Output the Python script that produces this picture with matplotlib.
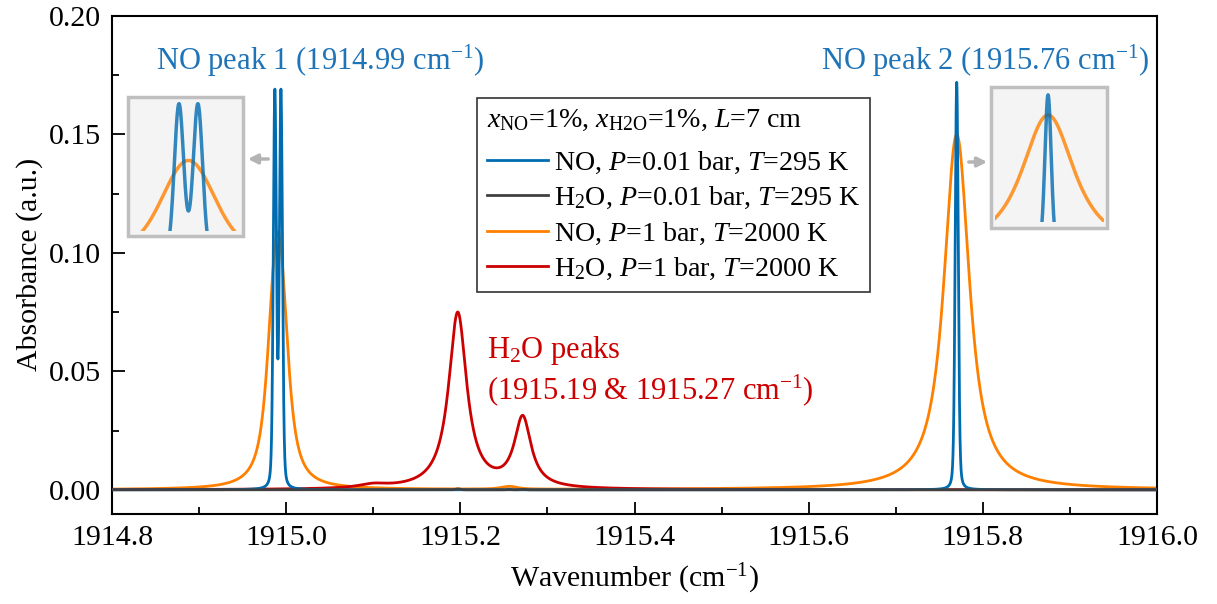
import numpy as np
import matplotlib.pyplot as plt
from matplotlib.ticker import MultipleLocator, FormatStrFormatter
from matplotlib.patches import Rectangle, FancyArrowPatch

# line positions (cm-1)
no_centers = [1914.987, 1914.994, 1915.256, 1915.770]
h2o_centers = [1915.100, 1915.197, 1915.2716]

# NO, P=0.01 bar, T=295 K
no_cold_heights = [0.166, 0.166, 0.0003, 0.172]
no_cold_lorentz = [0.0005, 0.0005, 0.0005, 0.0005]
no_cold_doppler = 0.0018

# H2O, P=0.01 bar, T=295 K
h2o_cold_heights = [0.0, 0.0004, 0.0002]
h2o_cold_lorentz = [0.0006, 0.0006, 0.0006]
h2o_cold_doppler = 0.0028

# NO, P=1 bar, T=2000 K
no_hot_heights = [0.059, 0.059, 0.0012, 0.150]
no_hot_lorentz = [0.0080, 0.0080, 0.0080, 0.0155]
no_hot_doppler = 0.0056

# H2O, P=1 bar, T=2000 K
h2o_hot_heights = [0.0015, 0.0743, 0.0294]
h2o_hot_lorentz = [0.0200, 0.0125, 0.0115]
h2o_hot_doppler = 0.0010

labels = [r"NO, $P$=0.01 bar, $T$=295 K",
          r"H$_2$O, $P$=0.01 bar, $T$=295 K",
          r"NO, $P$=1 bar, $T$=2000 K",
          r"H$_2$O, $P$=1 bar, $T$=2000 K"]
colors = ["#006cb0", "#404040", "#ff8000", "#cc0000"]

wn = np.arange(1914.70, 1916.10, 0.0001)


def voigt(x0, gamma, hwhm_g):
    """Voigt line (Lorentz convolved with Doppler gaussian), peak = 1"""
    dx = wn[1] - wn[0]
    lor = gamma**2 / ((wn - x0)**2 + gamma**2)
    sig = hwhm_g / np.sqrt(2 * np.log(2))
    n = int(6 * sig / dx) + 1
    k = np.arange(-n, n + 1) * dx
    g = np.exp(-0.5 * (k / sig)**2)
    v = np.convolve(lor, g / g.sum(), mode='same')
    return v / v.max()


def spectrum(centers, heights, gammas, doppler):
    y = np.zeros_like(wn)
    for c, h, g in zip(centers, heights, gammas):
        y += h * voigt(c, g, doppler)
    return y


spectra = [spectrum(no_centers, no_cold_heights, no_cold_lorentz, no_cold_doppler),
           spectrum(h2o_centers, h2o_cold_heights, h2o_cold_lorentz, h2o_cold_doppler),
           spectrum(no_centers, no_hot_heights, no_hot_lorentz, no_hot_doppler),
           spectrum(h2o_centers, h2o_hot_heights, h2o_hot_lorentz, h2o_hot_doppler)]
zorders = [5, 6, 2, 3]

plt.rcParams['font.family'] = 'Liberation Serif'
plt.rcParams['mathtext.fontset'] = 'custom'
plt.rcParams['mathtext.rm'] = 'Liberation Serif'
plt.rcParams['mathtext.it'] = 'Liberation Serif:italic'
plt.rcParams['mathtext.bf'] = 'Liberation Serif:bold'
plt.rcParams['font.size'] = 21.5

W, H = 1217, 604


def px_box(x0, y0, x1, y1):
    return [x0 / W, 1 - y1 / H, (x1 - x0) / W, (y1 - y0) / H]


fig = plt.figure(figsize=(W / 100, H / 100), dpi=100)
ax = fig.add_axes(px_box(112, 16, 1157, 513.5))

for y, c, lab, z in zip(spectra, colors, labels, zorders):
    ax.plot(wn, y, color=c, lw=2.0, label=lab, zorder=z)

ax.set_xlim(1914.8, 1916.0)
ax.set_ylim(-0.01, 0.20)
ax.xaxis.set_major_locator(MultipleLocator(0.2))
ax.xaxis.set_minor_locator(MultipleLocator(0.1))
ax.yaxis.set_major_locator(MultipleLocator(0.05))
ax.yaxis.set_minor_locator(MultipleLocator(0.025))
ax.xaxis.set_major_formatter(FormatStrFormatter('%.1f'))
ax.yaxis.set_major_formatter(FormatStrFormatter('%.2f'))
ax.tick_params(which='both', direction='in', top=False, right=False, width=1.3)
ax.tick_params(which='major', length=9, pad=8)
ax.tick_params(which='minor', length=5)
for s in ax.spines.values():
    s.set_linewidth(1.5)
ax.set_xlabel("Wavenumber (cm$^{-1}$)", labelpad=8)
ax.set_ylabel("Absorbance (a.u.)", labelpad=4)

leg = ax.legend(title=r"$x_{\mathrm{NO}}$=1%, $x_{\mathrm{H2O}}$=1%, $L$=7 cm",
                loc='upper left', bbox_to_anchor=(0.349, 0.835), borderaxespad=0,
                fancybox=False, edgecolor='#333333', framealpha=1, fontsize=20.2,
                handlelength=2.2, handletextpad=0.2, labelspacing=0.33,
                borderpad=0.35, alignment='left', title_fontsize=20.2)
leg.get_frame().set_linewidth(1.2)
leg._legend_box.sep = 12

# peak labels
ax.text(1915.039, 0.181, "NO peak 1 (1914.99 cm$^{-1}$)", color="#1f74b8",
        ha='center', va='center', fontsize=22)
ax.text(1915.8025, 0.181, "NO peak 2 (1915.76 cm$^{-1}$)", color="#1f74b8",
        ha='center', va='center', fontsize=22)
ax.text(1915.2306, 0.059, "H$_2$O peaks", color="#cc0000", ha='left', va='center',
        fontsize=22)
ax.text(1915.2306, 0.042, "(1915.19 & 1915.27 cm$^{-1}$)", color="#cc0000",
        ha='left', va='center', fontsize=22)

# zoom insets
insets = [((128, 97, 243, 236), (132, 100, 240, 231), (1914.9697, 1915.0095), (0.034, 0.173)),
          ((991, 87, 1107, 228), (995, 90, 1104, 222), (1915.7408, 1915.8008), (0.0333, 0.1773))]
for frame, box, xl, yl in insets:
    x0, y0, x1, y1 = frame
    fig.add_artist(Rectangle((x0 / W, 1 - y1 / H), (x1 - x0) / W, (y1 - y0) / H,
                             transform=fig.transFigure, facecolor='#f4f4f4',
                             edgecolor='#bfbfbf', lw=2.5, zorder=1))
    ins = fig.add_axes(px_box(*box))
    ins.set_zorder(2)
    ins.patch.set_alpha(0)
    ins.plot(wn, spectra[2], color=colors[2], lw=2.5, alpha=0.8)
    ins.plot(wn, spectra[0], color=colors[0], lw=2.5, alpha=0.8)
    ins.set_xlim(*xl)
    ins.set_ylim(*yl)
    ins.axis('off')

arrow_kw = dict(transform=fig.transFigure, arrowstyle='-|>', mutation_scale=14,
                color='#b4b4b4', lw=2.5, zorder=3)
fig.add_artist(FancyArrowPatch((271 / W, 1 - 159 / H), (245 / W, 1 - 159 / H), **arrow_kw))
fig.add_artist(FancyArrowPatch((966 / W, 1 - 162 / H), (990 / W, 1 - 162 / H), **arrow_kw))

plt.savefig("out.png", dpi=100)
